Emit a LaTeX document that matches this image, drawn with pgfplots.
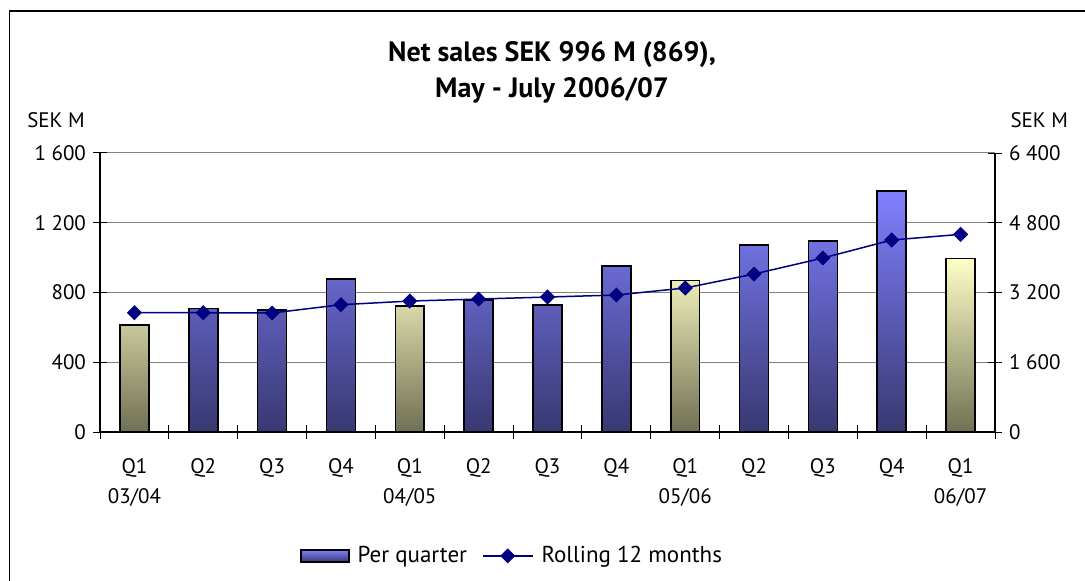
\documentclass[border=0pt]{standalone}
\usepackage{pgfplots}
\pgfplotsset{compat=1.18}
\usepackage{pgfplotstable}
\usepackage{fontspec}
\setmainfont{PT Sans}
\definecolor{bluetop}{RGB}{128,128,255}
\definecolor{bluebot}{RGB}{56,56,112}
\definecolor{yeltop}{RGB}{255,255,200}
\definecolor{yelbot}{RGB}{112,112,84}
\definecolor{navyc}{RGB}{0,0,128}

\pgfplotsset{
  mylinelegend/.style={legend image code/.code={\draw[mark repeat=2, mark phase=2, ##1] plot coordinates {(0pt,0pt) (12.5pt,0pt) (25pt,0pt)};}},
  mybarlegend/.style={legend image code/.code={\draw[draw=black, line width=0.75pt, top color=bluetop, bottom color=bluebot] (0pt,-3pt) rectangle (24pt,3pt);}},
}

\pgfplotstableread{
x y
1 709
2 698
3 879
5 757
6 728
7 952
9 1072
10 1095
11 1382
}\bluetab
\pgfplotstableread{
x y
0 612
4 722
8 869
12 996
}\yeltab
\pgfplotstableread{
x y
0 2736
1 2736
2 2730
3 2920
4 3004
5 3050
6 3096
7 3142
8 3303
9 3624
10 3991
11 4404
12 4534
}\rolltab

\newcommand{\tf}{\fontsize{10.5}{15}\selectfont}

\begin{document}
\begin{tikzpicture}
\useasboundingbox (0,0) rectangle (542.5pt,-290.5pt);
\draw[line width=0.7pt] (4.6pt,-5.5pt) rectangle (600pt,-400pt);
\node[align=center, font=\bfseries\fontsize{14}{18}\selectfont] at (276pt,-36pt) {Net sales SEK 996 M (869),\\May - July 2006/07};
\node[font=\tf] at (28pt,-60.3pt) {SEK M};
\node[font=\tf] at (519.6pt,-60.3pt) {SEK M};

\begin{axis}[
  at={(50pt,-216pt)}, anchor=south west, scale only axis,
  width=447.5pt, height=139.5pt,
  xmin=-0.5, xmax=12.5, ymin=0, ymax=1600,
  axis x line*=bottom, axis y line*=left,
  axis line style={line width=0.6pt, -},
  ytick={0,400,...,1600},
  ymajorgrids, grid style={gray, line width=0.5pt},
  xtick={0,...,12},
  xticklabels={Q1\\03/04, Q2, Q3, Q4, Q1\\04/05, Q2, Q3, Q4, Q1\\05/06, Q2, Q3, Q4, Q1\\06/07},
  xticklabel style={align=center, font=\tf, yshift=-6pt},
  yticklabel style={font=\tf},
  major x tick style={draw=none},
  minor xtick={-0.5,0.5,...,12.5},
  tick align=center, major tick length=7pt, minor tick length=7pt,
  tick style={black, line width=0.5pt},
  /pgf/number format/assume math mode=true,
  /pgf/number format/1000 sep={\ },
]
\addplot[ybar, bar width=0.42, bar shift=0pt, draw=black, line width=0.8pt, top color=bluetop, bottom color=bluebot] table[x=x,y=y]{\bluetab};
\addplot[ybar, bar width=0.42, bar shift=0pt, draw=black, line width=0.8pt, top color=yeltop, bottom color=yelbot] table[x=x,y=y]{\yeltab};
\end{axis}

\begin{axis}[
  at={(50pt,-216pt)}, anchor=south west, scale only axis,
  width=447.5pt, height=139.5pt,
  xmin=-0.5, xmax=12.5, ymin=0, ymax=6400,
  axis x line=none, axis y line*=right,
  axis line style={line width=0.6pt, -},
  ytick={0,1600,...,6400},
  yticklabel style={font=\tf},
  tick align=center, major tick length=7pt,
  tick style={black, line width=0.5pt},
  /pgf/number format/assume math mode=true,
  /pgf/number format/1000 sep={\ },
  legend style={at={(0.4615,-0.444)}, anchor=center, draw=none, font=\fontsize{11.5}{14}\selectfont,
    legend columns=-1,
    /tikz/every odd column/.append style={column sep=2pt},
    /tikz/every even column/.append style={column sep=5.5pt}},
]
\addlegendimage{mybarlegend}
\addlegendentry{Per quarter}
\addplot[navyc, line width=0.75pt, mark=square*, mark size=2.3pt, mark options={rotate=45}, mylinelegend]
  table[x=x,y=y]{\rolltab};
\addlegendentry{Rolling 12 months}
\end{axis}
\end{tikzpicture}
\end{document}
